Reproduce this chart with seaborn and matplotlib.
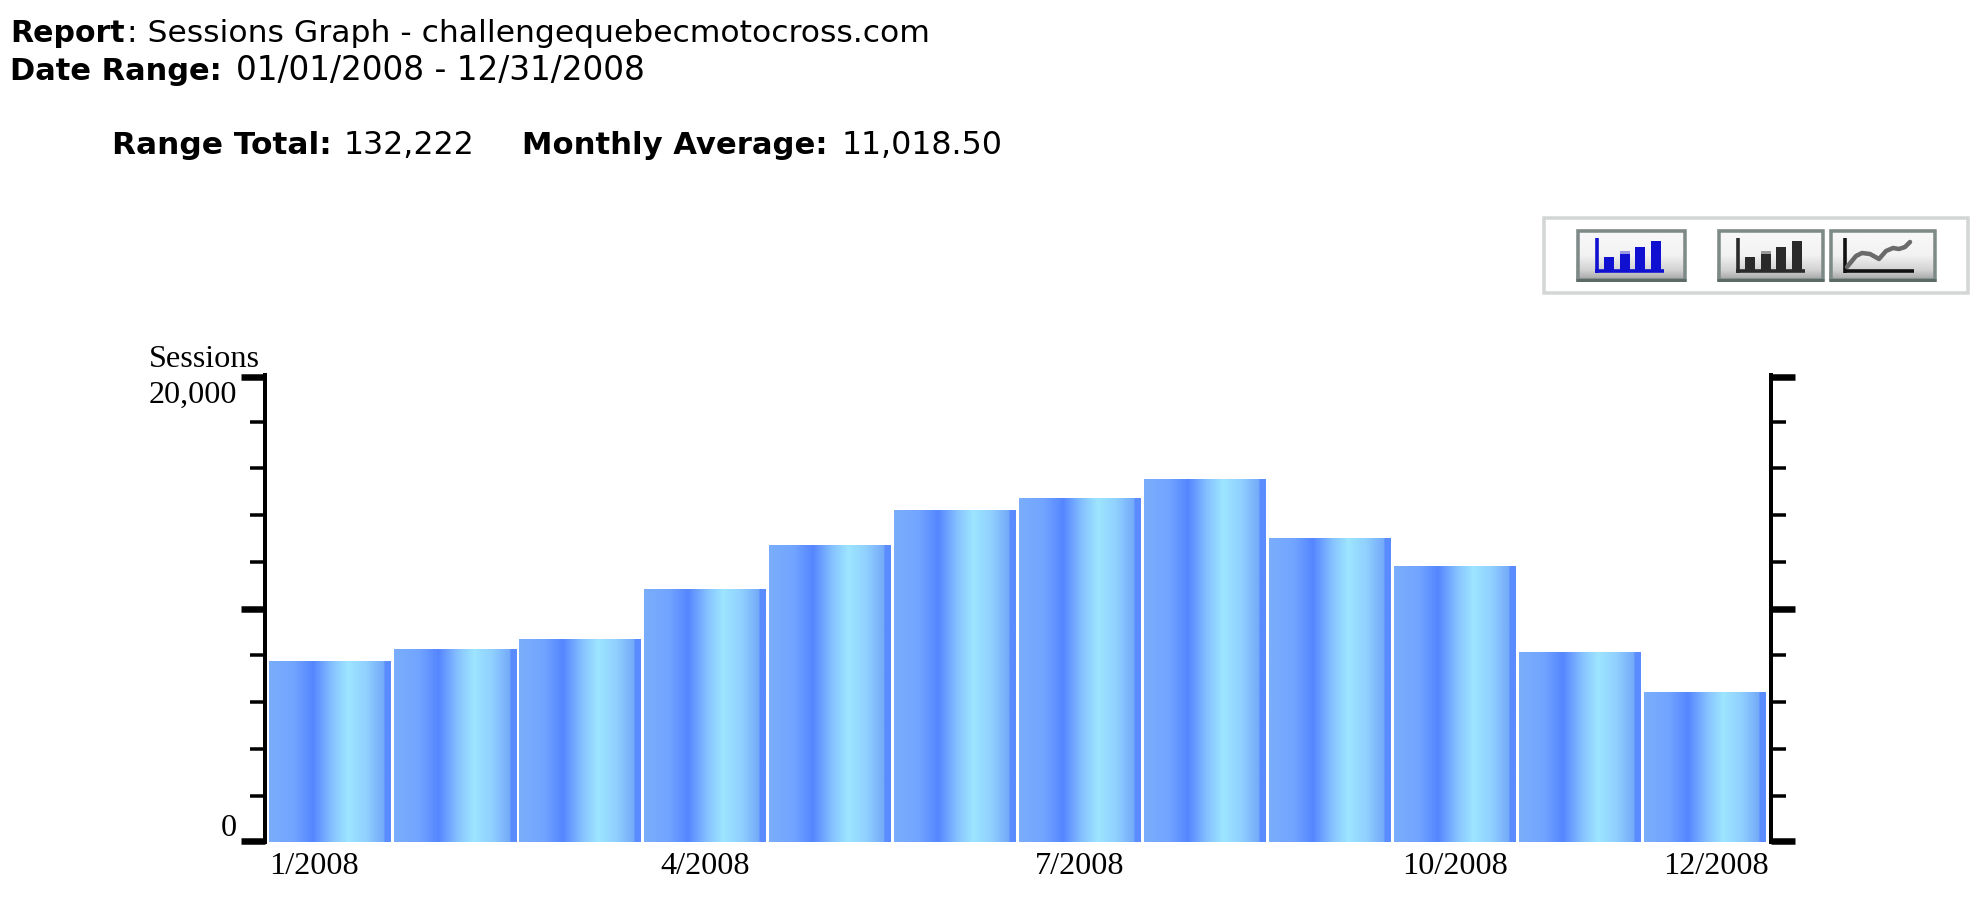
import matplotlib
matplotlib.use("Agg")
import matplotlib.pyplot as plt
from matplotlib.colors import LinearSegmentedColormap
from matplotlib.patches import Rectangle
from matplotlib.transforms import ScaledTranslation
import numpy as np
import seaborn as sns

months = ["1/2008", "2/2008", "3/2008", "4/2008", "5/2008", "6/2008",
          "7/2008", "8/2008", "9/2008", "10/2008", "11/2008", "12/2008"]
sessions = [7778, 8292, 8720, 10862, 12704, 14203,
            14716, 15530, 13003, 11804, 8164, 6446]
shown_months = ["1/2008", "4/2008", "7/2008", "10/2008", "12/2008"]
major_ticks = [70, 10000, 19930]  # end ticks sit just inside the axis line
minor_ticks = [2000, 4000, 6000, 8000, 12000, 14000, 16000, 18000]

W, H = 1976, 912
DPI = 100
PX = 72 / DPI  # one pixel in points

sns.set_style("white")
plt.rcParams["font.family"] = ["DejaVu Sans"]
fig = plt.figure(figsize=(W / DPI, H / DPI), dpi=DPI)

# chart axes, placed to the pixel
left, right, top, bottom = 265, 1771, 376, 843.3
ax = fig.add_axes([left / W, 1 - bottom / H, (right - left) / W, (bottom - top) / H])
sns.barplot(x=months, y=sessions, color="#74a8fb", saturation=1, width=0.976, ax=ax)
ax.set_xlabel("")
ax.set_ylabel("")

# every bar gets the same vertical banded gradient
bands = LinearSegmentedColormap.from_list("bands", [
    (0.0, "#7aaefb"), (0.2, "#72a5ff"), (0.3, "#6092ff"), (0.36, "#5586ff"),
    (0.44, "#6ea3ff"), (0.52, "#86c2ff"), (0.65, "#9de5ff"), (0.8, "#90d0ff"),
    (0.9, "#7db5fb"), (0.945, "#74aaf8"), (0.95, "#5a8cff"), (1.0, "#5a8cff")])
strip = np.linspace(0, 1, 256).reshape(1, -1)
for bar in ax.patches:
    x0, x1 = bar.get_x(), bar.get_x() + bar.get_width()
    img = ax.imshow(strip, cmap=bands, aspect="auto", zorder=3,
                    extent=(x0, x1, 0, 20000))
    img.set_clip_path(bar)
ax.set_xlim(-0.52, 11.528)
ax.set_ylim(0, 20000)

# axis lines and ticks on both sides
sns.despine(ax=ax, top=True, bottom=True, left=False, right=False)
for side in ["left", "right"]:
    ax.spines[side].set_linewidth(4 * PX)
    ax.spines[side].set_color("black")
ax.set_yticks(major_ticks)
ax.set_yticks(minor_ticks, minor=True)
ax.set_yticklabels([])
ax.tick_params(axis="y", which="major", left=True, right=True, length=24 * PX, width=6.5 * PX, color="black")
ax.tick_params(axis="y", which="minor", left=True, right=True, length=15 * PX, width=3.5 * PX, color="black")

# month labels: only some are shown, first and last pushed inward
ax.set_xticks([months.index(m) for m in shown_months])
ax.set_xticklabels(shown_months, family="Liberation Serif", fontsize=23.2, color="black")
ax.tick_params(axis="x", length=0, pad=6)
shift = {"1/2008": -16, "12/2008": 11}
for lab in ax.get_xticklabels():
    dx = shift.get(lab.get_text(), 0)
    lab.set_transform(lab.get_transform() + ScaledTranslation(dx / DPI, 0, fig.dpi_scale_trans))

# everything else is laid out in pixel coordinates
ui = fig.add_axes([0, 0, 1, 1], zorder=5)
ui.set_xlim(0, W)
ui.set_ylim(H, 0)
ui.axis("off")
ui.patch.set_alpha(0)

serif = dict(family="Liberation Serif", fontsize=23.2, color="black", va="baseline")
ui.text(149, 367, "Sessions", ha="left", **serif)
ui.text(237, 403, "20,000", ha="right", **serif)
ui.text(237, 836, "0", ha="right", **serif)

ui.text(10, 42, "Report", fontsize=21.6, fontweight="bold", color="black")
ui.text(127, 42, ": Sessions Graph - challengequebecmotocross.com", fontsize=22.6, color="black")
ui.text(10, 80, "Date Range:", fontsize=22, fontweight="bold", color="black")
ui.text(236, 80, "01/01/2008 - 12/31/2008", fontsize=23.5, color="black")
ui.text(112, 154, "Range Total:", fontsize=22.5, fontweight="bold", color="black")
ui.text(344, 154, "132,222", fontsize=22.8, color="black")
ui.text(522, 154, "Monthly Average:", fontsize=22.1, fontweight="bold", color="black")
ui.text(842, 154, "11,018.50", fontsize=22.8, color="black")

# toolbar panel and its three buttons
ui.add_patch(Rectangle((1544, 219), 424, 75, fill=False, ec="#d2d7d5", lw=3.5 * PX))
fade = np.interp(np.linspace(0, 1, 64), [0, 0.08, 0.5, 0.8, 1], [0.86, 0.97, 0.95, 0.82, 0.62]).reshape(-1, 1)
buttons = [(1576, 1686), (1717, 1824), (1829, 1936)]
for x0, x1 in buttons:
    ui.imshow(fade, cmap="gray", vmin=0, vmax=1, aspect="auto", extent=(x0, x1, 282, 230), zorder=1)
    ui.add_patch(Rectangle((x0 + 1.5, 231.5), x1 - x0 - 3, 49, fill=False, ec="#7d8a87", lw=3.5 * PX, zorder=2))
    ui.plot([x0, x1], [280.5, 280.5], color="#5c6b68", lw=3 * PX, solid_capstyle="butt", zorder=2)
ui.set_xlim(0, W)
ui.set_ylim(H, 0)

icon_bar_tops = [258, 255, 248, 242]
icon_bar_x = [0, 16, 31, 47]


def bar_icon(x0, colour, pale):
    ui.plot([x0 + 1.5, x0 + 1.5], [239, 273.5], color=colour, lw=3.6 * PX, solid_capstyle="butt", zorder=3)
    ui.plot([x0, x0 + 69], [271.8, 271.8], color=colour, lw=3.6 * PX, solid_capstyle="butt", zorder=3)
    ui.add_patch(Rectangle((x0 + 25, 252), 9.5, 3, fc=pale, ec="none", zorder=3))
    for bx, bt in zip(icon_bar_x, icon_bar_tops):
        ui.add_patch(Rectangle((x0 + 9 + bx, bt), 9.5, 271 - bt, fc=colour, ec="none", zorder=3))


bar_icon(1595, "#1010d0", "#9a9ae0")
bar_icon(1736, "#2a2a2a", "#9a9a9a")
ui.plot([1845, 1845], [239, 273.5], color="#111111", lw=3.6 * PX, solid_capstyle="butt", zorder=3)
ui.plot([1845, 1914], [271.8, 271.8], color="#111111", lw=3.6 * PX, solid_capstyle="butt", zorder=3)
line_x = [1847, 1856, 1862, 1870, 1879, 1886, 1893, 1899, 1905, 1910]
line_y = [268, 257, 254, 255, 260, 252, 249, 250, 248, 243]
ui.plot(line_x, line_y, color="#6a6a6a", lw=4.5 * PX, zorder=3)

fig.savefig("out.png", dpi=DPI)
